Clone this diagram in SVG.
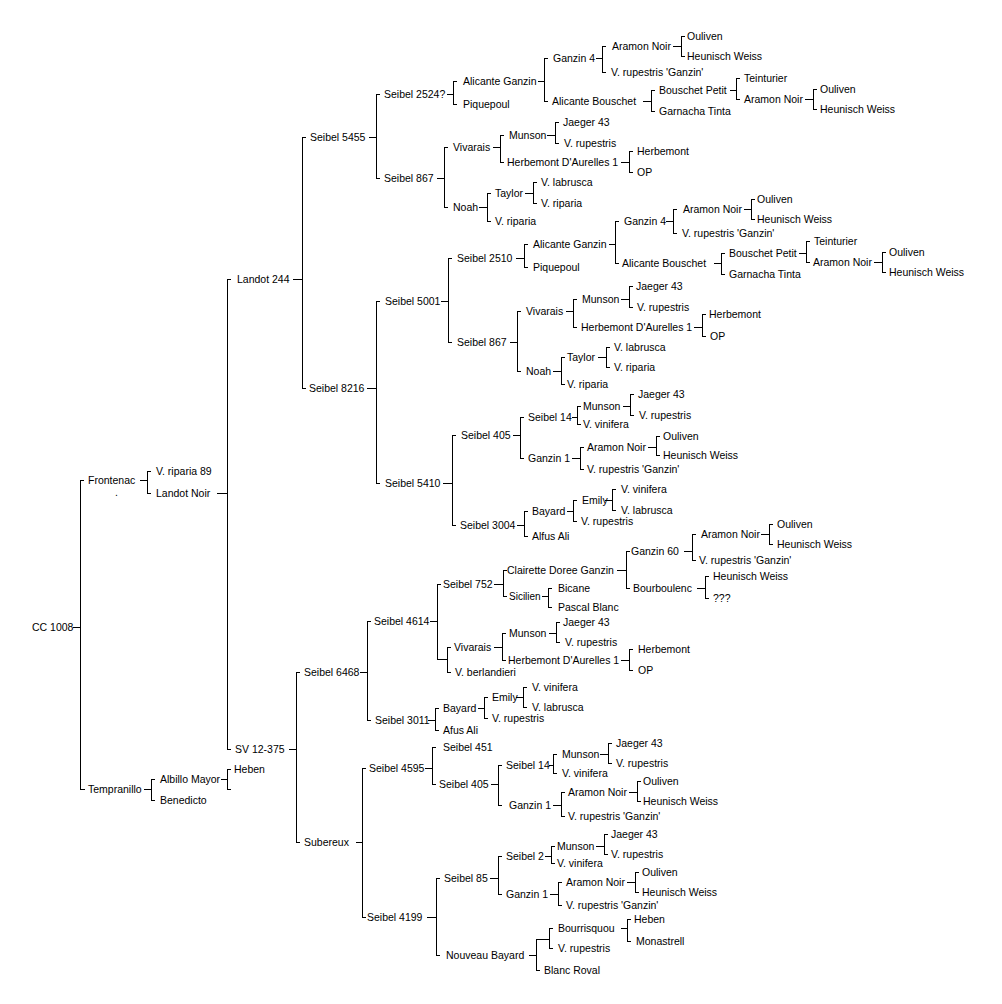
<svg xmlns="http://www.w3.org/2000/svg" width="1002" height="1004" viewBox="0 0 1002 1004">
<style>
text{font-family:"Liberation Sans",Arial,sans-serif;font-size:10.5px;fill:#000}
.sm{font-size:10px}
#connectors path{fill:none;stroke:#000;stroke-width:1;shape-rendering:crispEdges}
</style>
<rect width="1002" height="1004" fill="#fff"/>
<g id="connectors">
<path d="M73,627H80M84,480H80V789H85"/>
<path d="M140,480H147M151,471H147V493H151"/>
<path d="M217,493H227M231,279H227V749H231"/>
<path d="M293,279H302M306,137H302V388H306"/>
<path d="M369,137H376M380,94H376V178H380"/>
<path d="M447,94H453M457,81H453V104H457"/>
<path d="M538,81H544M548,58H544V101H548"/>
<path d="M596,58H602M606,46H602V72H606"/>
<path d="M673,46H681M685,36H681V56H685"/>
<path d="M643,101H651M655,90H651V111H655"/>
<path d="M730,90H736M740,78H736V99H740"/>
<path d="M805,99H813M817,89H813V109H817"/>
<path d="M437,178H444M448,147H444V207H448"/>
<path d="M493,147H500M504,135H500V162H504"/>
<path d="M547,135H555M559,122H555V143H559"/>
<path d="M621,162H629M633,151H629V172H633"/>
<path d="M479,207H487M491,193H487V221H491"/>
<path d="M525,193H533M537,182H533V203H537"/>
<path d="M367,388H376M380,301H376V483H380"/>
<path d="M441,301H448M452,258H448V342H452"/>
<path d="M516,258H524M528,244H524V267H528"/>
<path d="M609,244H615M619,221H615V263H619"/>
<path d="M666,221H673M677,209H673V233H677"/>
<path d="M744,209H751M755,199H751V219H755"/>
<path d="M714,263H721M725,253H721V274H725"/>
<path d="M799,253H806M810,241H806V262H810"/>
<path d="M874,262H882M886,252H882V272H886"/>
<path d="M510,342H517M521,311H517V371H521"/>
<path d="M566,311H573M577,299H573V327H577"/>
<path d="M621,299H629M633,286H629V307H633"/>
<path d="M694,327H702M706,314H702V336H706"/>
<path d="M553,371H561M565,357H561V384H565"/>
<path d="M598,357H606M610,347H606V367H610"/>
<path d="M443,483H452M456,435H452V525H456"/>
<path d="M513,435H520M524,417H520V458H524"/>
<path d="M572,417H577M581,406H577V424H581"/>
<path d="M623,406H630M634,394H630V415H634"/>
<path d="M572,458H580M584,447H580V469H584"/>
<path d="M648,447H656M660,436H656V455H660"/>
<path d="M517,525H524M528,511H524V536H528"/>
<path d="M567,511H573M577,500H573V521H577"/>
<path d="M605,500H612M616,489H612V510H616"/>
<path d="M289,749H296M300,672H296V842H300"/>
<path d="M360,672H367M371,621H367V720H371"/>
<path d="M430,621H437M441,584H437V659H447M451,647H447V672H451"/>
<path d="M494,584H503M507,570H503V596H507"/>
<path d="M617,570H626M630,551H626V588H630"/>
<path d="M684,551H692M696,534H692V560H696"/>
<path d="M761,534H769M773,524H769V544H773"/>
<path d="M697,588H705M709,576H705V598H709"/>
<path d="M542,596H548M552,588H548V607H552"/>
<path d="M494,647H502M506,633H502V660H506"/>
<path d="M549,633H556M560,622H556V642H560"/>
<path d="M621,660H629M633,649H629V670H633"/>
<path d="M428,720H435M439,708H435V730H439"/>
<path d="M478,708H484M488,697H484V718H488"/>
<path d="M516,697H523M527,687H523V707H527"/>
<path d="M356,842H362M366,768H362V917H366"/>
<path d="M425,768H432M436,747H432V784H436"/>
<path d="M491,784H498M502,765H498V805H502"/>
<path d="M549,765H553M557,754H553V773H557"/>
<path d="M600,754H608M612,743H608V763H612"/>
<path d="M553,805H561M565,792H561V816H565"/>
<path d="M629,792H637M641,781H637V801H641"/>
<path d="M427,917H436M440,878H436V955H440"/>
<path d="M490,878H498M502,856H498V894H502"/>
<path d="M545,856H551M555,846H551V863H555"/>
<path d="M596,846H604M608,834H604V854H608"/>
<path d="M550,894H558M562,882H558V905H562"/>
<path d="M627,882H635M639,872H635V892H639"/>
<path d="M529,955H536M549,939H536V970H540M553,928H549V948H553"/>
<path d="M621,928H627M631,919H627V941H631"/>
<path d="M144,789H151M155,779H151V800H155"/>
<path d="M221,779H227M231,769H227V789H231"/>
</g>
<g id="n-cc1008"><text x="32" y="631">CC 1008</text></g>
<g id="n-frontenac"><text x="88" y="484">Frontenac</text><text x="115" y="496">.</text></g>
<g id="n-vriparia89"><text x="156" y="475">V. riparia 89</text></g>
<g id="n-landotnoir"><text x="156" y="497">Landot Noir</text></g>
<g id="n-landot244"><text x="237" y="283">Landot 244</text></g>
<g id="n-seibel5455"><text x="310" y="141">Seibel 5455</text></g>
<g id="n-seibel2524"><text x="384" y="98">Seibel 2524?</text></g>
<g id="n-alig1"><text x="463" y="85">Alicante Ganzin</text></g>
<g id="n-piq1"><text x="463" y="108">Piquepoul</text></g>
<g id="n-ganzin4a"><text x="553" y="62">Ganzin 4</text></g>
<g id="n-alib1"><text x="552" y="105">Alicante Bouschet</text></g>
<g id="n-aramon1"><text x="612" y="50">Aramon Noir</text></g>
<g id="n-vrg1"><text x="611" y="76">V. rupestris 'Ganzin'</text></g>
<g id="n-oul1"><text x="687" y="40">Ouliven</text></g>
<g id="n-hw1"><text x="687" y="60">Heunisch Weiss</text></g>
<g id="n-bp1"><text x="659" y="94">Bouschet Petit</text></g>
<g id="n-gt1"><text x="659" y="115">Garnacha Tinta</text></g>
<g id="n-tein1"><text x="744" y="82">Teinturier</text></g>
<g id="n-aramon2"><text x="744" y="103">Aramon Noir</text></g>
<g id="n-oul2"><text x="820" y="93">Ouliven</text></g>
<g id="n-hw2"><text x="820" y="113">Heunisch Weiss</text></g>
<g id="n-seibel867a"><text x="384" y="182">Seibel 867</text></g>
<g id="n-viv1"><text x="453" y="151">Vivarais</text></g>
<g id="n-mun1"><text x="509" y="139">Munson</text></g>
<g id="n-jae1"><text x="563" y="126">Jaeger 43</text></g>
<g id="n-vru1"><text x="564" y="147">V. rupestris</text></g>
<g id="n-hda1"><text x="507" y="166">Herbemont D'Aurelles 1</text></g>
<g id="n-herb1"><text x="637" y="155">Herbemont</text></g>
<g id="n-op1"><text x="637" y="176">OP</text></g>
<g id="n-noah1"><text x="453" y="211">Noah</text></g>
<g id="n-tay1"><text x="495" y="197">Taylor</text></g>
<g id="n-vlab1"><text x="541" y="186">V. labrusca</text></g>
<g id="n-vrip1"><text x="541" y="207">V. riparia</text></g>
<g id="n-vrip2"><text x="495" y="225">V. riparia</text></g>
<g id="n-seibel8216"><text x="309" y="392">Seibel 8216</text></g>
<g id="n-seibel5001"><text x="385" y="305">Seibel 5001</text></g>
<g id="n-seibel2510"><text x="457" y="262">Seibel 2510</text></g>
<g id="n-alig2"><text x="533" y="248">Alicante Ganzin</text></g>
<g id="n-piq2"><text x="533" y="271">Piquepoul</text></g>
<g id="n-ganzin4b"><text x="624" y="225">Ganzin 4</text></g>
<g id="n-aramon3"><text x="683" y="213">Aramon Noir</text></g>
<g id="n-oul3"><text x="757" y="203">Ouliven</text></g>
<g id="n-hw3"><text x="757" y="223">Heunisch Weiss</text></g>
<g id="n-vrg2"><text x="682" y="237">V. rupestris 'Ganzin'</text></g>
<g id="n-alib2"><text x="622" y="267">Alicante Bouschet</text></g>
<g id="n-bp2"><text x="729" y="257">Bouschet Petit</text></g>
<g id="n-gt2"><text x="729" y="278">Garnacha Tinta</text></g>
<g id="n-tein2"><text x="814" y="245">Teinturier</text></g>
<g id="n-aramon4"><text x="813" y="266">Aramon Noir</text></g>
<g id="n-oul4"><text x="889" y="256">Ouliven</text></g>
<g id="n-hw4"><text x="889" y="276">Heunisch Weiss</text></g>
<g id="n-seibel867b"><text x="457" y="346">Seibel 867</text></g>
<g id="n-viv2"><text x="526" y="315">Vivarais</text></g>
<g id="n-mun2"><text x="582" y="303">Munson</text></g>
<g id="n-jae2"><text x="636" y="290">Jaeger 43</text></g>
<g id="n-vru2"><text x="637" y="311">V. rupestris</text></g>
<g id="n-hda2"><text x="581" y="331">Herbemont D'Aurelles 1</text></g>
<g id="n-herb2"><text x="709" y="318">Herbemont</text></g>
<g id="n-op2"><text x="710" y="340">OP</text></g>
<g id="n-noah2"><text x="526" y="375">Noah</text></g>
<g id="n-tay2"><text x="567" y="361">Taylor</text></g>
<g id="n-vlab2"><text x="614" y="351">V. labrusca</text></g>
<g id="n-vrip3"><text x="614" y="371">V. riparia</text></g>
<g id="n-vrip4"><text x="567" y="388">V. riparia</text></g>
<g id="n-seibel5410"><text x="385" y="487">Seibel 5410</text></g>
<g id="n-seibel405a"><text x="461" y="439">Seibel 405</text></g>
<g id="n-seibel14a"><text x="528" y="421">Seibel 14</text></g>
<g id="n-mun3"><text x="583" y="410">Munson</text></g>
<g id="n-jae3"><text x="638" y="398">Jaeger 43</text></g>
<g id="n-vru3"><text x="639" y="419">V. rupestris</text></g>
<g id="n-vvin1"><text x="583" y="428">V. vinifera</text></g>
<g id="n-ganzin1a"><text x="528" y="462">Ganzin 1</text></g>
<g id="n-aramon5"><text x="587" y="451">Aramon Noir</text></g>
<g id="n-oul5"><text x="663" y="440">Ouliven</text></g>
<g id="n-hw5"><text x="663" y="459">Heunisch Weiss</text></g>
<g id="n-vrg3"><text x="587" y="473">V. rupestris 'Ganzin'</text></g>
<g id="n-seibel3004"><text x="460" y="529">Seibel 3004</text></g>
<g id="n-bay1"><text x="532" y="515">Bayard</text></g>
<g id="n-emi1"><text x="582" y="504">Emily</text></g>
<g id="n-vvin2"><text x="621" y="493">V. vinifera</text></g>
<g id="n-vlab3"><text x="621" y="514">V. labrusca</text></g>
<g id="n-vru4"><text x="581" y="525">V. rupestris</text></g>
<g id="n-alfus"><text x="532" y="540">Alfus Ali</text></g>
<g id="n-sv12375"><text x="235" y="753">SV 12-375</text></g>
<g id="n-seibel6468"><text x="304" y="676">Seibel 6468</text></g>
<g id="n-seibel4614"><text x="374" y="625">Seibel 4614</text></g>
<g id="n-seibel752"><text x="443" y="588">Seibel 752</text></g>
<g id="n-cdg"><text x="507" y="574">Clairette Doree Ganzin</text></g>
<g id="n-ganzin60"><text x="631" y="555">Ganzin 60</text></g>
<g id="n-aramon6"><text x="701" y="538">Aramon Noir</text></g>
<g id="n-oul6"><text x="777" y="528">Ouliven</text></g>
<g id="n-hw6"><text x="777" y="548">Heunisch Weiss</text></g>
<g id="n-vrg4"><text x="699" y="564">V. rupestris 'Ganzin'</text></g>
<g id="n-bourb"><text x="633" y="592">Bourboulenc</text></g>
<g id="n-hw7"><text x="713" y="580">Heunisch Weiss</text></g>
<g id="n-unk"><text x="713" y="602">???</text></g>
<g id="n-sicilien"><text class="sm" x="509" y="600">Sicilien</text></g>
<g id="n-bicane"><text x="558" y="592">Bicane</text></g>
<g id="n-pascal"><text x="558" y="611">Pascal Blanc</text></g>
<g id="n-viv3"><text x="454" y="651">Vivarais</text></g>
<g id="n-mun4"><text x="509" y="637">Munson</text></g>
<g id="n-jae4"><text x="563" y="626">Jaeger 43</text></g>
<g id="n-vru5"><text x="565" y="646">V. rupestris</text></g>
<g id="n-hda3"><text x="508" y="664">Herbemont D'Aurelles 1</text></g>
<g id="n-herb3"><text x="638" y="653">Herbemont</text></g>
<g id="n-op3"><text x="638" y="674">OP</text></g>
<g id="n-vber"><text x="455" y="676">V. berlandieri</text></g>
<g id="n-seibel3011"><text x="375" y="724">Seibel 3011</text></g>
<g id="n-bay2"><text x="443" y="712">Bayard</text></g>
<g id="n-emi2"><text x="492" y="701">Emily</text></g>
<g id="n-vvin3"><text x="532" y="691">V. vinifera</text></g>
<g id="n-vlab4"><text x="532" y="711">V. labrusca</text></g>
<g id="n-vru6"><text x="492" y="722">V. rupestris</text></g>
<g id="n-afus"><text x="443" y="734">Afus Ali</text></g>
<g id="n-subereux"><text x="304" y="846">Subereux</text></g>
<g id="n-seibel4595"><text x="369" y="772">Seibel 4595</text></g>
<g id="n-seibel451"><text x="443" y="751">Seibel 451</text></g>
<g id="n-seibel405b"><text x="439" y="788">Seibel 405</text></g>
<g id="n-seibel14b"><text x="506" y="769">Seibel 14</text></g>
<g id="n-mun5"><text x="562" y="758">Munson</text></g>
<g id="n-jae5"><text x="616" y="747">Jaeger 43</text></g>
<g id="n-vru7"><text x="616" y="767">V. rupestris</text></g>
<g id="n-vvin4"><text x="562" y="777">V. vinifera</text></g>
<g id="n-ganzin1b"><text x="509" y="809">Ganzin 1</text></g>
<g id="n-aramon7"><text x="568" y="796">Aramon Noir</text></g>
<g id="n-oul7"><text x="643" y="785">Ouliven</text></g>
<g id="n-hw8"><text x="643" y="805">Heunisch Weiss</text></g>
<g id="n-vrg5"><text x="568" y="820">V. rupestris 'Ganzin'</text></g>
<g id="n-seibel4199"><text x="367" y="921">Seibel 4199</text></g>
<g id="n-seibel85"><text x="444" y="882">Seibel 85</text></g>
<g id="n-seibel2"><text x="506" y="860">Seibel 2</text></g>
<g id="n-mun6"><text x="557" y="850">Munson</text></g>
<g id="n-jae6"><text x="611" y="838">Jaeger 43</text></g>
<g id="n-vru8"><text x="611" y="858">V. rupestris</text></g>
<g id="n-vvin5"><text x="557" y="867">V. vinifera</text></g>
<g id="n-ganzin1c"><text x="506" y="898">Ganzin 1</text></g>
<g id="n-aramon8"><text x="566" y="886">Aramon Noir</text></g>
<g id="n-oul8"><text x="642" y="876">Ouliven</text></g>
<g id="n-hw9"><text x="642" y="896">Heunisch Weiss</text></g>
<g id="n-vrg6"><text x="566" y="909">V. rupestris 'Ganzin'</text></g>
<g id="n-nouveau"><text x="446" y="959">Nouveau Bayard</text></g>
<g id="n-bourr"><text x="558" y="932">Bourrisquou</text></g>
<g id="n-heben1"><text x="634" y="923">Heben</text></g>
<g id="n-monas"><text x="636" y="945">Monastrell</text></g>
<g id="n-vru9"><text x="558" y="952">V. rupestris</text></g>
<g id="n-blanc"><text x="544" y="974">Blanc Roval</text></g>
<g id="n-tempranillo"><text x="88" y="793">Tempranillo</text></g>
<g id="n-albillo"><text x="160" y="783">Albillo Mayor</text></g>
<g id="n-heben2"><text x="234" y="773">Heben</text></g>
<g id="n-benedicto"><text x="160" y="804">Benedicto</text></g>
</svg>
